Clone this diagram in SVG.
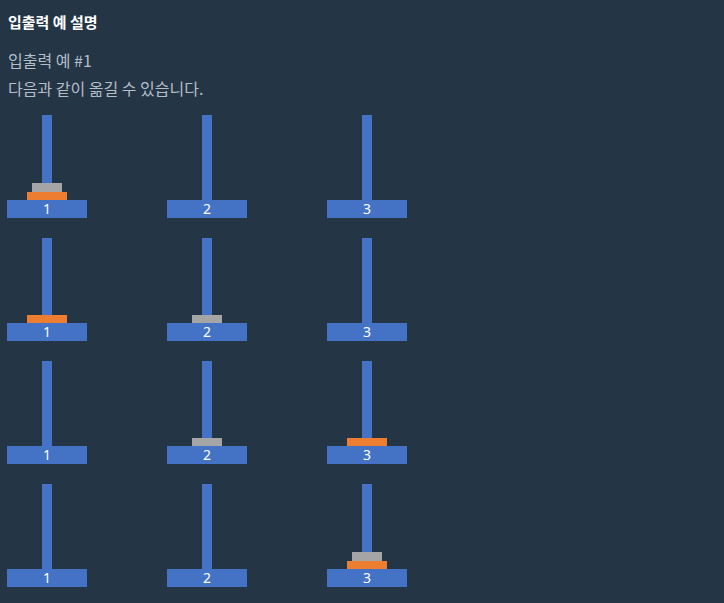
<svg xmlns="http://www.w3.org/2000/svg" width="724" height="603" viewBox="0 0 724 603">
<style>
.bg{fill:#243545}
.t{font-family:"Noto Sans CJK KR","Noto Sans",sans-serif}
.title{font-size:15px;font-weight:bold;fill:#ffffff}
.body{font-size:16px;fill:#b4bec9}
.pole{fill:#4472c4}
.base{fill:#4472c4}
.lbl{font-family:"Noto Sans","Noto Sans CJK KR",sans-serif;font-size:14px;fill:#ffffff;text-anchor:middle}
.big{fill:#ed7d31}
.small{fill:#a5a5a5}
</style>
<defs>
<g id="peg">
<rect class="pole" x="35" y="0" width="10" height="85"/>
<rect class="base" x="0" y="85" width="80" height="18"/>
</g>
</defs>
<rect class="bg" x="0" y="0" width="724" height="603"/>
<g id="header">
<text class="t title" x="8" y="28">입출력 예 설명</text>
<text class="t body" x="8" y="67">입출력 예 #1</text>
<text class="t body" x="8" y="95">다음과 같이 옮길 수 있습니다.</text>
</g>
<g id="step1" transform="translate(0,115)">
<g id="s1p1" transform="translate(7,0)"><use href="#peg"/><rect class="big" x="20" y="77" width="40" height="8"/><rect class="small" x="25" y="68" width="30" height="9"/><text class="lbl" x="40" y="99">1</text></g>
<g id="s1p2" transform="translate(167,0)"><use href="#peg"/><text class="lbl" x="40" y="99">2</text></g>
<g id="s1p3" transform="translate(327,0)"><use href="#peg"/><text class="lbl" x="40" y="99">3</text></g>
</g>
<g id="step2" transform="translate(0,238)">
<g id="s2p1" transform="translate(7,0)"><use href="#peg"/><rect class="big" x="20" y="77" width="40" height="8"/><text class="lbl" x="40" y="99">1</text></g>
<g id="s2p2" transform="translate(167,0)"><use href="#peg"/><rect class="small" x="25" y="77" width="30" height="8"/><text class="lbl" x="40" y="99">2</text></g>
<g id="s2p3" transform="translate(327,0)"><use href="#peg"/><text class="lbl" x="40" y="99">3</text></g>
</g>
<g id="step3" transform="translate(0,361)">
<g id="s3p1" transform="translate(7,0)"><use href="#peg"/><text class="lbl" x="40" y="99">1</text></g>
<g id="s3p2" transform="translate(167,0)"><use href="#peg"/><rect class="small" x="25" y="77" width="30" height="8"/><text class="lbl" x="40" y="99">2</text></g>
<g id="s3p3" transform="translate(327,0)"><use href="#peg"/><rect class="big" x="20" y="77" width="40" height="8"/><text class="lbl" x="40" y="99">3</text></g>
</g>
<g id="step4" transform="translate(0,484)">
<g id="s4p1" transform="translate(7,0)"><use href="#peg"/><text class="lbl" x="40" y="99">1</text></g>
<g id="s4p2" transform="translate(167,0)"><use href="#peg"/><text class="lbl" x="40" y="99">2</text></g>
<g id="s4p3" transform="translate(327,0)"><use href="#peg"/><rect class="big" x="20" y="77" width="40" height="8"/><rect class="small" x="25" y="68" width="30" height="9"/><text class="lbl" x="40" y="99">3</text></g>
</g>
<g id="connectors"/>
</svg>
